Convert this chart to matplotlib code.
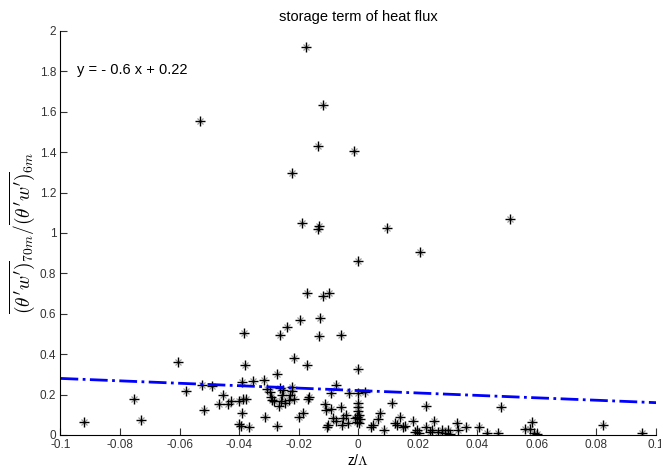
import numpy as np
import matplotlib
matplotlib.use("Agg")
import matplotlib.pyplot as plt

plt.rcParams['font.family'] = ['Liberation Sans', 'DejaVu Sans']
plt.rcParams['mathtext.fontset'] = 'cm'

# z/Lambda and flux ratio
z = [-0.0177, -0.0119, -0.0533, -0.0134, -0.0013, -0.0221, -0.0190, -0.0132,
     -0.0134, 0.0096, 0.0508, 0.0209, 0.0000, -0.0173, -0.0098, -0.0117,
     -0.0194, -0.0129, -0.0238, -0.0263, -0.0383, -0.0132, -0.0059, -0.0215,
     -0.0604, -0.0380, -0.0173, 0.0000, -0.0274, -0.0315, -0.0354, -0.0390,
     -0.0580, -0.0525, -0.0491, -0.0754, -0.0730, -0.0922, -0.0518, -0.0467,
     -0.0455, -0.0437, -0.0427, -0.0402, -0.0388, -0.0376, -0.0390, -0.0400,
     -0.0395, -0.0368, -0.0313, -0.0272, -0.0307, -0.0297, -0.0294, -0.0290,
     -0.0283, -0.0263, -0.0257, -0.0253, -0.0266, -0.0260, -0.0245, -0.0231,
     -0.0228, -0.0222, -0.0222, -0.0215, -0.0198, -0.0184, -0.0170, -0.0165,
     -0.0112, -0.0109, -0.0105, -0.0100, -0.0090, -0.0093, -0.0075, -0.0085,
     -0.0075, -0.0059, -0.0054, -0.0050, -0.0041, -0.0034, -0.0031, -0.0010,
     0.0000, 0.0000, 0.0000, 0.0000, 0.0003, -0.0004, 0.0006, -0.0003,
     0.0003, 0.0023, 0.0042, 0.0050, 0.0065, 0.0074, 0.0085, 0.0113,
     0.0123, 0.0130, 0.0141, 0.0149, 0.0158, 0.0184, 0.0191, 0.0198,
     0.0205, 0.0226, 0.0229, 0.0240, 0.0248, 0.0255, 0.0269, 0.0280,
     0.0290, 0.0301, 0.0308, 0.0330, 0.0334, 0.0362, 0.0407, 0.0431,
     0.0470, 0.0480, 0.0559, 0.0577, 0.0583, 0.0591, 0.0601, 0.0823,
     0.0953]
ratio = [1.919, 1.636, 1.555, 1.431, 1.408, 1.296, 1.047, 1.034,
         1.021, 1.027, 1.068, 0.908, 0.862, 0.701, 0.701, 0.688,
         0.567, 0.577, 0.533, 0.496, 0.505, 0.488, 0.495, 0.379,
         0.359, 0.348, 0.348, 0.325, 0.302, 0.272, 0.265, 0.260,
         0.218, 0.247, 0.244, 0.178, 0.073, 0.066, 0.124, 0.153,
         0.196, 0.153, 0.170, 0.170, 0.180, 0.180, 0.107, 0.054,
         0.043, 0.038, 0.091, 0.045, 0.226, 0.214, 0.190, 0.173,
         0.168, 0.234, 0.198, 0.223, 0.143, 0.170, 0.157, 0.173,
         0.198, 0.218, 0.239, 0.180, 0.089, 0.107, 0.178, 0.186,
         0.153, 0.124, 0.041, 0.048, 0.130, 0.206, 0.247, 0.082,
         0.068, 0.140, 0.049, 0.082, 0.100, 0.061, 0.206, 0.082,
         0.206, 0.160, 0.137, 0.120, 0.100, 0.087, 0.077, 0.066,
         0.058, 0.213, 0.041, 0.049, 0.077, 0.107, 0.025, 0.157,
         0.061, 0.049, 0.087, 0.038, 0.045, 0.071, 0.016, 0.025,
         0.012, 0.143, 0.041, 0.016, 0.025, 0.071, 0.016, 0.025,
         0.012, 0.025, 0.005, 0.058, 0.025, 0.041, 0.041, 0.008,
         0.008, 0.137, 0.031, 0.031, 0.066, 0.012, 0.003, 0.049,
         0.008]

# linear fit shown on the plot
slope = -0.6
intercept = 0.22
fit_x = np.array([-0.1, 0.1])

fig = plt.figure(figsize=(6.61, 4.70), dpi=100)
ax = fig.add_axes([0.0915, 0.0745, 0.901, 0.8596])

# matlab-ish '*' marker: faint x under a black +
ax.plot(z, ratio, linestyle='none', marker='x', markersize=4,
        markeredgewidth=0.9, color='#999999')
ax.plot(z, ratio, linestyle='none', marker='+', markersize=7,
        markeredgewidth=1.0, color='black')
ax.plot(fit_x, slope * fit_x + intercept, '-.', color='blue', linewidth=2)

ax.set_xlim(-0.1, 0.1)
ax.set_ylim(0, 2)
ax.set_xticks(np.arange(-0.1, 0.1001, 0.02))
ax.set_xticklabels(['-0.1', '-0.08', '-0.06', '-0.04', '-0.02', '0',
                    '0.02', '0.04', '0.06', '0.08', '0.1'])
ax.set_yticks(np.arange(0, 2.001, 0.2))
ax.set_yticklabels(['0', '0.2', '0.4', '0.6', '0.8', '1', '1.2', '1.4',
                    '1.6', '1.8', '2'])
ax.tick_params(direction='in', length=5, labelsize=8.5, colors='#333333',
               pad=3)
ax.spines['top'].set_visible(False)
ax.spines['right'].set_visible(False)

ax.set_title('storage term of heat flux', fontsize=10.5, pad=7)
ax.set_xlabel(r'z/$\Lambda$', fontsize=10, labelpad=1)
ax.set_ylabel(r"$\overline{(\theta' w')}_{70m}/\overline{(\theta' w')}_{6m}$",
              fontsize=14, labelpad=2)
ax.text(-0.0943, 1.807, 'y = - 0.6 x + 0.22', fontsize=10.5, va='center')

fig.savefig('out.png', dpi=100)
